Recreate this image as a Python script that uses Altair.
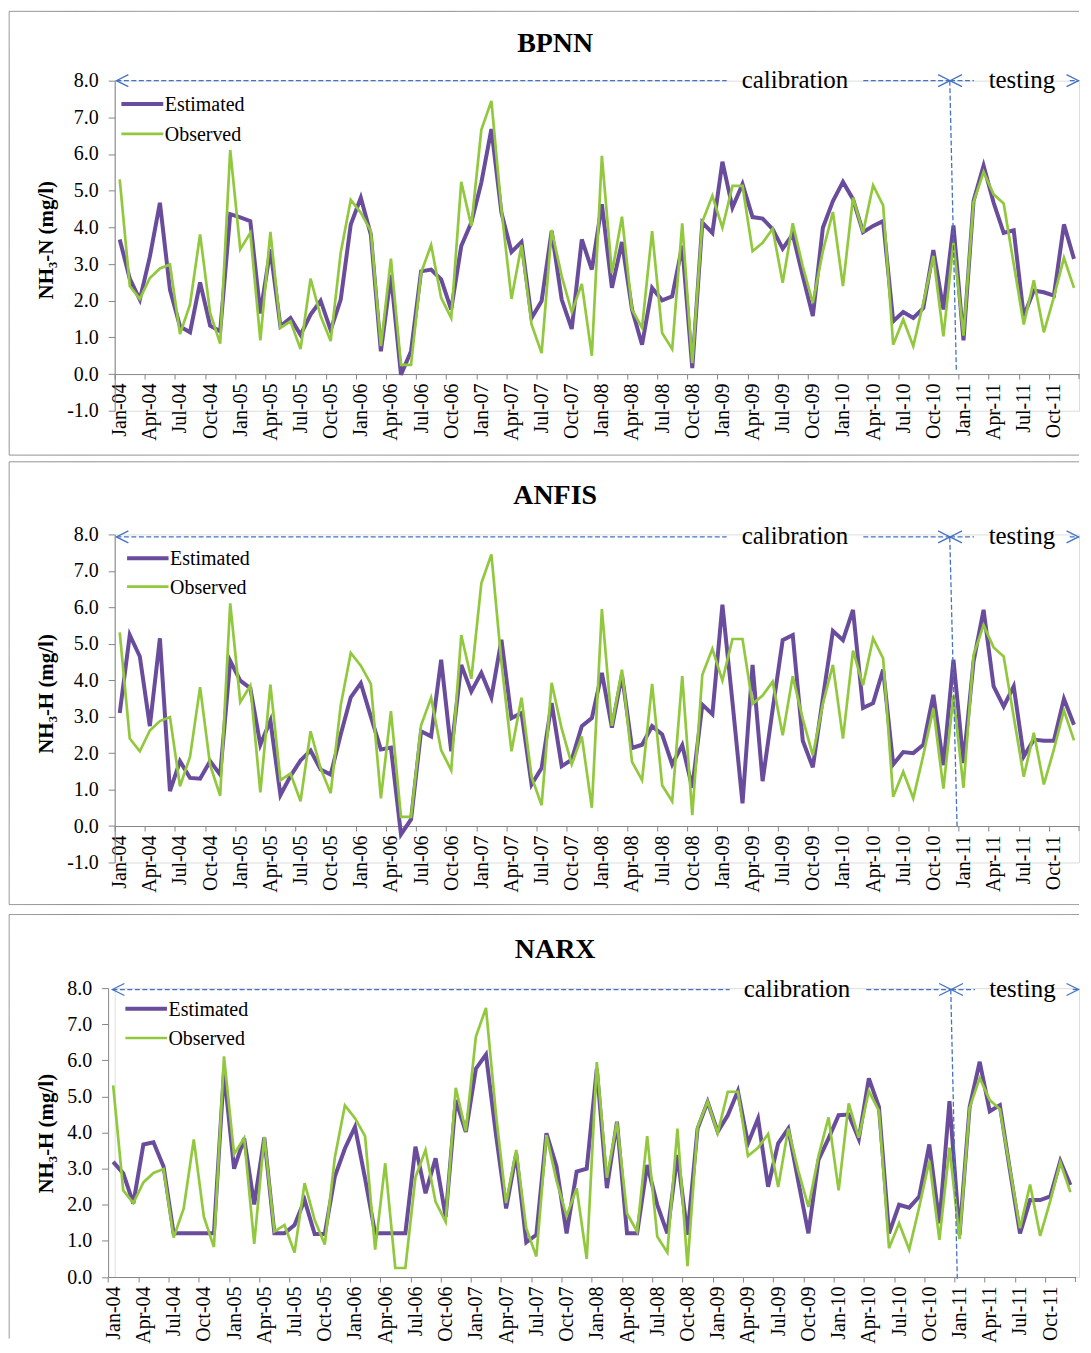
import json
import altair as alt
import pandas as pd

# ---------------- data ----------------
MONTH_NAMES = ["Jan", "Feb", "Mar", "Apr", "May", "Jun",
               "Jul", "Aug", "Sep", "Oct", "Nov", "Dec"]
YEARS = ["04", "05", "06", "07", "08", "09", "10", "11"]
month_labels = [f"{m}-{y}" for y in YEARS for m in MONTH_NAMES]
tick_labels = month_labels[::3]          # Jan, Apr, Jul, Oct of each year

observed = [5.31, 2.40, 2.05, 2.62, 2.88, 2.99, 1.09, 1.90, 3.81, 1.67, 0.83, 6.11,
            3.40, 3.85, 0.92, 3.88, 1.26, 1.44, 0.68, 2.60, 1.58, 0.90, 3.31, 4.75,
            4.40, 3.90, 0.76, 3.15, 0.25, 0.25, 2.76, 3.52, 2.08, 1.53, 5.24, 4.04,
            6.66, 7.45, 4.49, 2.05, 3.52, 1.35, 0.57, 3.93, 2.67, 1.69, 2.46, 0.50,
            5.95, 2.75, 4.29, 1.76, 1.26, 3.90, 1.12, 0.68, 4.11, 0.30, 4.15, 4.86,
            3.99, 5.13, 5.13, 3.35, 3.58, 3.96, 2.49, 4.11, 2.94, 1.94, 3.35, 4.42,
            2.40, 4.81, 3.86, 5.15, 4.60, 0.80, 1.49, 0.76, 1.94, 3.22, 1.03, 3.58,
            1.05, 4.69, 5.51, 4.90, 4.65, 3.00, 1.35, 2.56, 1.14, 2.10, 3.17, 2.35]

bpnn = [3.67, 2.60, 2.03, 3.20, 4.67, 2.30, 1.30, 1.14, 2.50, 1.32, 1.17, 4.36,
        4.27, 4.17, 1.65, 3.40, 1.30, 1.53, 1.07, 1.62, 2.00, 1.20, 2.03, 4.08,
        4.81, 3.80, 0.62, 2.70, -0.02, 0.62, 2.80, 2.85, 2.58, 1.76, 3.49, 4.13,
        5.22, 6.68, 4.40, 3.33, 3.60, 1.53, 1.99, 3.90, 2.03, 1.23, 3.67, 2.85,
        4.63, 2.35, 3.60, 1.76, 0.80, 2.35, 2.01, 2.12, 3.50, 0.16, 4.13, 3.85,
        5.79, 4.54, 5.18, 4.28, 4.24, 3.95, 3.42, 3.81, 2.67, 1.58, 3.99, 4.72,
        5.24, 4.77, 3.87, 4.04, 4.17, 1.44, 1.69, 1.53, 1.80, 3.38, 1.76, 4.05,
        0.92, 4.72, 5.68, 4.67, 3.85, 3.92, 1.58, 2.28, 2.23, 2.14, 4.08, 3.14]

anfis = [3.10, 5.24, 4.65, 2.74, 5.15, 0.96, 1.78, 1.32, 1.30, 1.78, 1.41, 4.53,
         3.99, 3.78, 2.23, 2.89, 0.85, 1.37, 1.80, 2.07, 1.55, 1.41, 2.51, 3.53,
         3.92, 3.00, 2.10, 2.15, -0.23, 0.18, 2.60, 2.46, 4.56, 2.05, 4.42, 3.69,
         4.20, 3.53, 5.11, 2.96, 3.10, 1.14, 1.59, 3.37, 1.64, 1.82, 2.74, 2.96,
         4.20, 2.70, 4.15, 2.14, 2.23, 2.74, 2.51, 1.69, 2.22, 1.05, 3.33, 3.07,
         6.07, 3.40, 0.62, 4.42, 1.23, 3.20, 5.10, 5.24, 2.34, 1.61, 3.51, 5.35,
         5.10, 5.93, 3.24, 3.37, 4.29, 1.69, 2.03, 2.00, 2.23, 3.60, 1.67, 4.56,
         1.73, 4.51, 5.93, 3.83, 3.28, 3.83, 1.91, 2.37, 2.34, 2.34, 3.49, 2.78]

narx = [3.19, 2.87, 2.04, 3.67, 3.73, 3.06, 1.21, 1.21, 1.21, 1.21, 1.21, 5.70,
        3.00, 3.84, 2.01, 3.86, 1.21, 1.21, 1.44, 2.13, 1.19, 1.19, 2.78, 3.56,
        4.16, 2.73, 1.21, 1.21, 1.21, 1.21, 3.61, 2.32, 3.29, 1.67, 4.90, 4.02,
        5.77, 6.16, 3.93, 1.90, 3.42, 0.96, 1.17, 3.98, 3.06, 1.21, 2.92, 3.00,
        5.77, 2.46, 4.30, 1.21, 1.21, 3.10, 2.00, 1.21, 3.38, 1.17, 4.11, 4.85,
        4.02, 4.48, 5.15, 3.70, 4.39, 2.50, 3.70, 4.11, 2.64, 1.21, 3.24, 3.84,
        4.48, 4.50, 3.82, 5.50, 4.71, 1.21, 2.00, 1.92, 2.23, 3.67, 1.49, 4.87,
        1.17, 4.71, 5.96, 4.59, 4.76, 2.96, 1.21, 2.13, 2.13, 2.23, 3.21, 2.55]

# ---------------- style ----------------
PURPLE = "#6A4C9C"
GREEN = "#92C83E"
BLUE = "#4472C4"
AXIS_GRAY = "#868686"
FRAME_GRAY = "#8C8C8C"
SERIF = "Liberation Serif"
W = 967
N_MONTHS = len(month_labels)
RIGHT_EDGE = 967.0   # keep the whole picture inside the 1075px body width

label_expr = "%s[floor(datum.value / 3)]" % json.dumps(tick_labels)
y_label_expr = "(datum.value < 0 ? '-' : '') + format(abs(datum.value), '.1f')"

one = pd.DataFrame({"k": [0]})
end_tick = pd.DataFrame({"b": [N_MONTHS]})


def hline(x1, x2, y, dash=True, color=BLUE, width=1.3, opacity=1.0):
    m = alt.Chart(one).mark_rule(color=color, strokeWidth=width,
                                 strokeDash=[5, 2.5] if dash else [1, 0],
                                 opacity=opacity)
    return m.encode(x=alt.value(x1), x2=alt.value(x2), y=alt.value(y))


def seg(x1, y1, x2, y2, color=BLUE, width=1.3, dash=True, opacity=1.0):
    m = alt.Chart(one).mark_rule(color=color, strokeWidth=width,
                                 strokeDash=[5, 2.5] if dash else [1, 0],
                                 opacity=opacity)
    return m.encode(x=alt.value(x1), x2=alt.value(x2), y=alt.value(y1), y2=alt.value(y2))


def chevron(x, y, direction):
    path = "M2,-1L0,0L2,1" if direction == "left" else "M-2,-1L0,0L-2,1"
    return alt.Chart(one).mark_point(shape=path, size=144, filled=False, color=BLUE,
                                     strokeWidth=1.3, opacity=1).encode(
        x=alt.value(x), y=alt.value(y))


def text(x, y, s, size, weight="normal", align="center", baseline="alphabetic", angle=0):
    return alt.Chart(one).mark_text(text=s, font=SERIF, fontSize=size, fontWeight=weight,
                                    align=align, baseline=baseline, angle=angle,
                                    color="black").encode(x=alt.value(x), y=alt.value(y))


def panel(name, ytitle, est, ymin, H, x_range, y_axis_offset, title_y,
          frame_top, frame_bottom, bottom_line, bounds_top,
          legend, annot, split, ytitle_y):
    df = pd.DataFrame({"b": [i + 0.5 for i in range(N_MONTHS)],
                       "Estimated": est, "Observed": observed})
    step = (x_range[1] - x_range[0]) / N_MONTHS if x_range else W / N_MONTHS
    xscale = alt.Scale(domain=[0, N_MONTHS], range=x_range) if x_range else \
        alt.Scale(domain=[0, N_MONTHS])
    x_off = -H * (0 - ymin) / (8 - ymin)
    xaxis = alt.Axis(values=list(range(0, N_MONTHS, 3)), labelExpr=label_expr,
                     labelAngle=-90, labelOffset=step / 2, tickSize=5, labelPadding=4,
                     domainColor=AXIS_GRAY, tickColor=AXIS_GRAY, labelColor="black",
                     labelFont=SERIF, labelFontSize=20, grid=False, title=None,
                     offset=x_off, labelOverlap=False, labelFlush=False)
    yaxis = alt.Axis(values=list(range(ymin, 9)), labelExpr=y_label_expr, tickSize=6.5,
                     labelPadding=10, domainColor=AXIS_GRAY, tickColor=AXIS_GRAY,
                     labelColor="black", labelFont=SERIF, labelFontSize=20,
                     grid=False, title=None, offset=y_axis_offset)
    yscale = alt.Scale(domain=[ymin, 8], nice=False, zero=False)

    base = alt.Chart(df)
    est_line = base.mark_line(color=PURPLE, strokeWidth=4).encode(
        x=alt.X("b:Q", scale=xscale, axis=xaxis),
        y=alt.Y("Estimated:Q", scale=yscale, axis=yaxis))
    obs_line = base.mark_line(color=GREEN, strokeWidth=2.7).encode(
        x=alt.X("b:Q", scale=xscale, axis=xaxis),
        y=alt.Y("Observed:Q", scale=yscale, axis=yaxis))
    # closing tick mark at the right end of the category axis
    last_tick = alt.Chart(end_tick).mark_rule(color=AXIS_GRAY, strokeWidth=1).encode(
        x=alt.X("b:Q", scale=xscale, axis=xaxis),
        y=alt.value(H + x_off), y2=alt.value(H + x_off + 5))

    layers = []
    # frame (top, left, bottom) — its right edge lies outside the picture
    fl, fr = -105.8, RIGHT_EDGE
    layers.append(hline(fl, fr, frame_top, dash=False, color=FRAME_GRAY, width=1))
    layers.append(seg(fl, frame_top, fl, frame_bottom, color=FRAME_GRAY, width=1, dash=False))
    if bottom_line:
        layers.append(hline(fl, fr, frame_bottom, dash=False, color=FRAME_GRAY, width=1))
    if bounds_top is not None:
        layers.append(hline(fl, fl + 1, bounds_top, dash=False, opacity=0))

    # title and y-axis title
    layers.append(text(441.7, title_y, name, 28, weight="bold"))
    layers.append(text(-68.3, ytitle_y, ytitle, 21, weight="bold",
                       baseline="middle", angle=270))

    # legend
    lx1, lx2, ly1, ly2 = legend
    layers.append(hline(lx1, lx2, ly1, dash=False, color=PURPLE, width=4))
    layers.append(text(lx2 + 1.5, ly1 + 7, "Estimated", 20, align="left"))
    layers.append(hline(lx1, lx2, ly2, dash=False, color=GREEN, width=2.7))
    layers.append(text(lx2 + 1.5, ly2 + 7, "Observed", 20, align="left"))

    # calibration / testing annotation
    a = annot
    y0 = a["y"]
    layers.append(hline(a["l"], a["l1"], y0))
    layers.append(chevron(a["l"], y0, "left"))
    layers.append(text(a["cal"], y0 + 7, "calibration", 25))
    layers.append(hline(a["m0"], a["x"], y0))
    layers.append(chevron(a["x"], y0, "right"))
    layers.append(chevron(a["x"], y0, "left"))
    layers.append(hline(a["x"], a["m1"], y0))
    layers.append(text(a["test"], y0 + 7, "testing", 25))
    layers.append(hline(a["r0"], RIGHT_EDGE, y0))
    layers.append(chevron(RIGHT_EDGE - 0.5, y0, "right"))
    sx1, sy1, sx2, sy2 = split
    layers.append(seg(sx1, sy1, sx2, sy2))

    return alt.layer(est_line, obs_line, last_tick, *layers).properties(width=W, height=H)


p1 = panel("BPNN", "NH₃-N (mg/l)", bpnn, -1, 331, None, 0, -29,
           -69.5, 375.5, True, None,
           (6.7, 48.7, 23.3, 53.3),
           dict(y=0, l=1.7, l1=613.7, cal=682.2, m0=750.7, x=837.7, m1=861.7,
                test=909.7, r0=957.7),
           (837.4, 0, 844.0, 291), 160)

p2 = panel("ANFIS", "NH₃-H (mg/l)", anfis, -1, 329, None, 0, -30,
           -72.8, 371.2, True, None,
           (12.4, 54.0, 24.0, 52.4),
           dict(y=2.5, l=1.7, l1=613.7, cal=682.2, m0=750.7, x=837.7, m1=861.7,
                test=909.7, r0=957.7),
           (837.4, 3, 844.7, 292.5), 160)

p3 = panel("NARX", "NH₃-H (mg/l)", narx, 0, 289.7, [-6.6, 963.4], 6.6, -30.3,
           -73.8, 351.5, False, -76.8,
           (10.7, 52.4, 20.7, 50.0),
           dict(y=1.4, l=-2.3, l1=616.7, cal=684.2, m0=753.7, x=838.7, m1=862.7,
                test=910.2, r0=960.7),
           (838.4, 1.4, 845.0, 293.7), 146)

chart = alt.vconcat(p1, p2, p3, spacing=4).properties(
    padding={"left": 0, "top": 0, "right": 0, "bottom": 0}
).configure_view(stroke=None).configure(font=SERIF)

chart.save("out.html", embed_options={"renderer": "svg", "actions": False})
